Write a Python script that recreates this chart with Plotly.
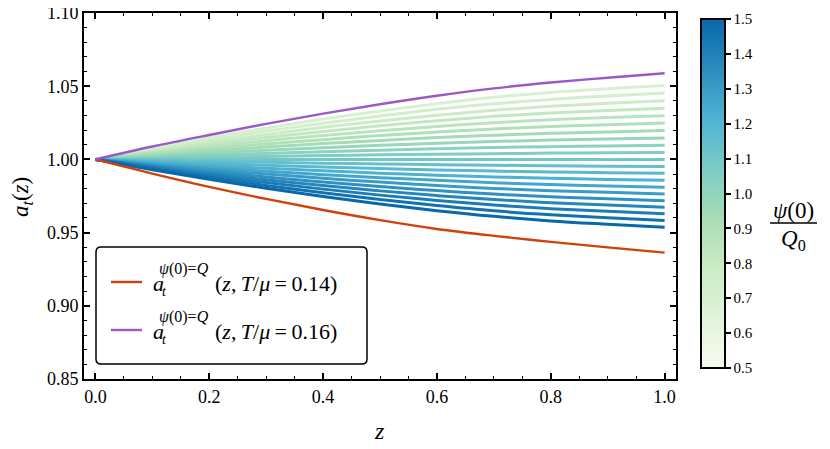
import plotly.graph_objects as go
from plotly.colors import sample_colorscale

# ---------------- data ----------------
z = [0.0, 0.1, 0.2, 0.3, 0.4, 0.5, 0.6, 0.7, 0.8, 0.9, 1.0]

psi_ratio = [0.70, 0.74, 0.78, 0.82, 0.86, 0.90, 0.94, 0.98, 1.02, 1.06, 1.10,
             1.14, 1.18, 1.22, 1.26, 1.30, 1.34, 1.38, 1.42, 1.46, 1.50]

family = [
    [1.0, 1.0077, 1.0148, 1.0215, 1.0276, 1.0331, 1.0381, 1.0424, 1.0457, 1.0482, 1.0505],
    [1.0, 1.0069, 1.0133, 1.0193, 1.0247, 1.0297, 1.0342, 1.0380, 1.0410, 1.0433, 1.0453],
    [1.0, 1.0061, 1.0117, 1.0170, 1.0219, 1.0263, 1.0302, 1.0336, 1.0363, 1.0383, 1.0401],
    [1.0, 1.0053, 1.0103, 1.0149, 1.0191, 1.0230, 1.0264, 1.0294, 1.0317, 1.0334, 1.0350],
    [1.0, 1.0045, 1.0088, 1.0127, 1.0163, 1.0196, 1.0225, 1.0251, 1.0271, 1.0286, 1.0299],
    [1.0, 1.0038, 1.0073, 1.0105, 1.0135, 1.0163, 1.0187, 1.0208, 1.0224, 1.0237, 1.0248],
    [1.0, 1.0030, 1.0058, 1.0084, 1.0108, 1.0129, 1.0149, 1.0165, 1.0178, 1.0188, 1.0197],
    [1.0, 1.0022, 1.0043, 1.0062, 1.0080, 1.0096, 1.0110, 1.0122, 1.0132, 1.0139, 1.0146],
    [1.0, 1.0015, 1.0028, 1.0041, 1.0052, 1.0063, 1.0072, 1.0081, 1.0087, 1.0092, 1.0096],
    [1.0, 1.0007, 1.0014, 1.0020, 1.0026, 1.0031, 1.0035, 1.0039, 1.0043, 1.0045, 1.0047],
    [1.0, 1.0000, 1.0000, 1.0000, 1.0000, 1.0000, 1.0000, 1.0000, 1.0000, 1.0000, 1.0000],
    [1.0, 0.9993, 0.9986, 0.9980, 0.9974, 0.9969, 0.9964, 0.9960, 0.9957, 0.9954, 0.9952],
    [1.0, 0.9986, 0.9972, 0.9960, 0.9948, 0.9938, 0.9928, 0.9920, 0.9914, 0.9909, 0.9905],
    [1.0, 0.9978, 0.9958, 0.9939, 0.9922, 0.9906, 0.9892, 0.9880, 0.9871, 0.9863, 0.9857],
    [1.0, 0.9971, 0.9944, 0.9919, 0.9896, 0.9875, 0.9857, 0.9841, 0.9828, 0.9819, 0.9810],
    [1.0, 0.9964, 0.9931, 0.9900, 0.9871, 0.9845, 0.9822, 0.9802, 0.9786, 0.9775, 0.9764],
    [1.0, 0.9957, 0.9917, 0.9880, 0.9846, 0.9815, 0.9787, 0.9763, 0.9745, 0.9731, 0.9718],
    [1.0, 0.9950, 0.9904, 0.9861, 0.9821, 0.9785, 0.9753, 0.9726, 0.9704, 0.9688, 0.9673],
    [1.0, 0.9943, 0.9891, 0.9842, 0.9797, 0.9756, 0.9720, 0.9688, 0.9663, 0.9645, 0.9628],
    [1.0, 0.9936, 0.9878, 0.9822, 0.9772, 0.9726, 0.9685, 0.9649, 0.9622, 0.9601, 0.9582],
    [1.0, 0.9929, 0.9864, 0.9803, 0.9747, 0.9696, 0.9650, 0.9611, 0.9580, 0.9557, 0.9536],
]

red_014 = [1.0, 0.9903, 0.9812, 0.9730, 0.9654, 0.9585, 0.9525, 0.9478, 0.9437, 0.9399, 0.9363]
purple_016 = [1.0, 1.0088, 1.0167, 1.0243, 1.0313, 1.0377, 1.0435, 1.0485, 1.0525, 1.0558, 1.0588]

cbar_ticks = [0.5, 0.6, 0.7, 0.8, 0.9, 1.0, 1.1, 1.2, 1.3, 1.4, 1.5]
x_ticks = [0.0, 0.2, 0.4, 0.6, 0.8, 1.0]
y_ticks = [0.85, 0.90, 0.95, 1.00, 1.05, 1.10]

# ---------------- style ----------------
FONT = "Liberation Serif, Times New Roman, DejaVu Serif, serif"
OFF = 8                      # page body margin of the browser
W, H = 830 - OFF, 449 - OFF
L, R, T, B = 84, 676, 13, 379  # plot area in screenshot pixels


def px(x):
    return (x - L) / (R - L)


def py(y):
    return (B - y) / (B - T)


gnbu = ['rgb(247,252,240)', 'rgb(224,243,219)', 'rgb(204,235,197)', 'rgb(168,221,181)',
        'rgb(123,204,196)', 'rgb(78,179,211)', 'rgb(43,140,190)', 'rgb(8,104,172)']
cscale = [[i / (len(gnbu) - 1), c] for i, c in enumerate(gnbu)]
cmin, cmax = 0.5, 1.5

fig = go.Figure()

for p, vals in zip(psi_ratio, family):
    col = sample_colorscale(cscale, [(p - cmin) / (cmax - cmin)])[0]
    fig.add_trace(go.Scatter(x=z, y=vals, mode="lines", line=dict(color=col, width=3, shape="spline"),
                             showlegend=False, hoverinfo="skip"))

fig.add_trace(go.Scatter(x=z, y=red_014, mode="lines", line=dict(color="#d1410c", width=2.4, shape="spline"),
                         showlegend=False))
fig.add_trace(go.Scatter(x=z, y=purple_016, mode="lines", line=dict(color="#9b59c8", width=2.4, shape="spline"),
                         showlegend=False))

# colorbar carrier
fig.add_trace(go.Scatter(
    x=[None], y=[None], mode="markers", showlegend=False, hoverinfo="skip",
    marker=dict(color=[cmin, cmax], colorscale=cscale, cmin=cmin, cmax=cmax, showscale=True,
                colorbar=dict(
                    thickness=24, thicknessmode="pixels",
                    len=349, lenmode="pixels",
                    x=px(701), xanchor="left", xref="paper",
                    y=py(19), yanchor="top", yref="paper",
                    outlinewidth=2, outlinecolor="black",
                    ticks="outside", ticklen=5, tickwidth=1.5, tickcolor="black",
                    tickvals=cbar_ticks, ticktext=[f"{v:.1f}" for v in cbar_ticks],
                    tickfont=dict(family=FONT, size=15, color="black"),
                    ticklabeloverflow="allow",
                    xpad=0, ypad=0,
                ))))

axis_common = dict(
    showline=True, linewidth=2, linecolor="black", mirror="allticks",
    ticks="inside", ticklen=6, tickwidth=1.5, tickcolor="black",
    showgrid=False, zeroline=False, ticklabeloverflow="allow",
    tickfont=dict(family=FONT, size=18, color="black"),
)

fig.update_xaxes(range=[-0.02, 1.02], tickvals=x_ticks, ticktext=[f"{v:.1f}" for v in x_ticks],
                 minor=dict(dtick=0.05, tick0=0, ticks="inside", ticklen=3, tickwidth=1.2, tickcolor="black"),
                 **axis_common)
fig.update_yaxes(range=[0.85, 1.10], tickvals=y_ticks, ticktext=[f"{v:.2f}" for v in y_ticks],
                 minor=dict(dtick=0.01, tick0=0.85, ticks="inside", ticklen=3, tickwidth=1.2, tickcolor="black"),
                 **axis_common)

ann = []
# axis titles
ann.append(dict(x=px(379), y=py(431), xref="paper", yref="paper", text="<i>z</i>", showarrow=False,
                font=dict(family=FONT, size=24, color="black"), xanchor="center", yanchor="middle"))
ann.append(dict(x=px(22), y=py(197), xref="paper", yref="paper", text="<i>a</i><sub><i>t</i></sub>(<i>z</i>)",
                showarrow=False, textangle=-90, font=dict(family=FONT, size=23, color="black"),
                xanchor="center", yanchor="middle"))
# colorbar label as fraction
ann.append(dict(x=px(793), y=py(211), xref="paper", yref="paper", text="<i>ψ</i>(0)", showarrow=False,
                font=dict(family=FONT, size=23, color="black"), xanchor="center", yanchor="middle"))
ann.append(dict(x=px(793), y=py(240), xref="paper", yref="paper", text="<i>Q</i><sub>0</sub>", showarrow=False,
                font=dict(family=FONT, size=23, color="black"), xanchor="center", yanchor="middle"))

shapes = [dict(type="line", xref="paper", yref="paper", x0=px(770), x1=px(817), y0=py(223), y1=py(223),
               line=dict(color="black", width=1.3))]

# legend box (rounded)
bx0, by0, bx1, by1, r = 96, 247, 367, 364, 5
path = (f"M {px(bx0 + r)},{py(by0)} L {px(bx1 - r)},{py(by0)} "
        f"Q {px(bx1)},{py(by0)} {px(bx1)},{py(by0 + r)} L {px(bx1)},{py(by1 - r)} "
        f"Q {px(bx1)},{py(by1)} {px(bx1 - r)},{py(by1)} L {px(bx0 + r)},{py(by1)} "
        f"Q {px(bx0)},{py(by1)} {px(bx0)},{py(by1 - r)} L {px(bx0)},{py(by0 + r)} "
        f"Q {px(bx0)},{py(by0)} {px(bx0 + r)},{py(by0)} Z")
shapes.append(dict(type="path", xref="paper", yref="paper", path=path, fillcolor="white",
                   line=dict(color="black", width=1.5), layer="above"))

entries = [("#d1410c", "0.14", 282), ("#9b59c8", "0.16", 330)]
for col, tval, yc in entries:
    shapes.append(dict(type="line", xref="paper", yref="paper", x0=px(111), x1=px(142), y0=py(yc), y1=py(yc),
                       line=dict(color=col, width=2.4), layer="above"))
    ann.append(dict(x=px(151), y=py(yc + 1), xref="paper", yref="paper", text="<i>a</i>", showarrow=False,
                    font=dict(family=FONT, size=22, color="black"), xanchor="left", yanchor="middle"))
    ann.append(dict(x=px(160), y=py(yc + 9), xref="paper", yref="paper", text="<i>t</i>", showarrow=False,
                    font=dict(family=FONT, size=14, color="black"), xanchor="left", yanchor="middle"))
    ann.append(dict(x=px(157), y=py(yc - 13), xref="paper", yref="paper", text="<i>ψ</i>(0)=<i>Q</i>",
                    showarrow=False, font=dict(family=FONT, size=16, color="black"),
                    xanchor="left", yanchor="middle"))
    ann.append(dict(x=px(213), y=py(yc + 1), xref="paper", yref="paper",
                    text=f"(<i>z</i>,\u2009<i>T</i>/<i>μ</i>\u2009=\u20090.{tval[2:]})", showarrow=False,
                    font=dict(family=FONT, size=22, color="black"), xanchor="left", yanchor="middle"))

fig.update_layout(
    width=W, height=H,
    margin=dict(l=L - OFF, r=W - (R - OFF), t=T - OFF, b=H - (B - OFF), autoexpand=False),
    paper_bgcolor="white", plot_bgcolor="white",
    annotations=ann, shapes=shapes, showlegend=False,
    font=dict(family=FONT, color="black"),
)

fig.write_html("out.html")
